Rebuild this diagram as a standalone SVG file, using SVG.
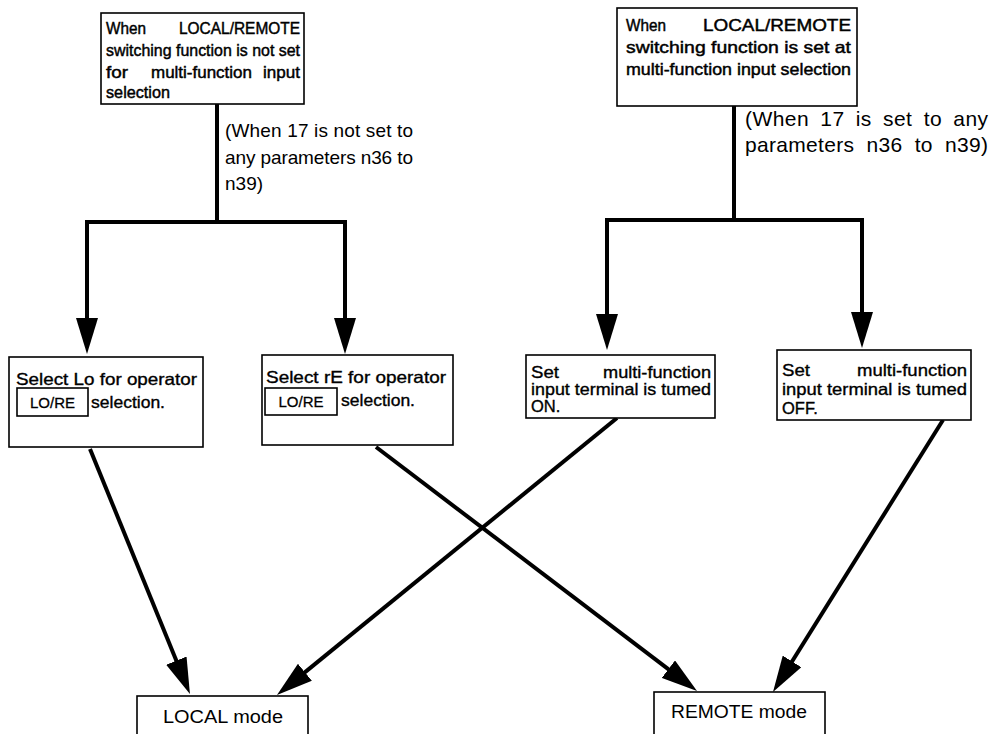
<svg xmlns="http://www.w3.org/2000/svg" width="992" height="734" viewBox="0 0 992 734">
<style>
.box{fill:#fff;stroke:#000;stroke-width:1.6}
.tb{font-family:"Liberation Sans",Arial,sans-serif;font-size:16.5px;fill:#000;stroke:#000;stroke-width:0.45}
.bt{font-family:"Liberation Sans",Arial,sans-serif;font-size:16.5px;fill:#000;stroke:#000;stroke-width:0.35}
.sm{font-family:"Liberation Sans",Arial,sans-serif;font-size:15px;fill:#000;stroke:#000;stroke-width:0.3}
.ann{font-family:"Liberation Sans",Arial,sans-serif;fill:#000}
.mt{font-family:"Liberation Sans",Arial,sans-serif;font-size:18px;fill:#000}
.ln{fill:none;stroke:#000;stroke-width:4}
.ar{fill:none;stroke:#000;stroke-width:4;marker-end:url(#ah)}
</style>
<defs>
<marker id="ah" markerUnits="userSpaceOnUse" viewBox="0 0 36 22" refX="16" refY="11" markerWidth="36" markerHeight="22" orient="auto">
<path d="M0,0 L36,11 L0,22 Z" fill="#000"/>
</marker>
</defs>
<g id="connectors">
<path class="ln" d="M217,104 V222"/>
<path class="ln" d="M85,222 H347"/>
<path class="ar" d="M87,222 V334"/>
<path class="ar" d="M345,222 V334"/>
<path class="ln" d="M734,106 V220"/>
<path class="ln" d="M605,220 H864"/>
<path class="ar" d="M607,220 V330"/>
<path class="ar" d="M862,220 V328"/>
<path class="ar" d="M90,449 L182.4,675.5"/>
<path class="ar" d="M376,447 L681.1,678.9"/>
<path class="ar" d="M617,418 L292.5,682.4"/>
<path class="ar" d="M943,420 L783.6,675"/>
</g>
<g id="node-top-left">
<rect class="box" x="101" y="13" width="203" height="91"/>
<text class="tb" x="106" y="34" textLength="40" lengthAdjust="spacingAndGlyphs">When</text>
<text class="tb" x="300" y="34" text-anchor="end" textLength="121" lengthAdjust="spacingAndGlyphs">LOCAL/REMOTE</text>
<text class="tb" x="106" y="56" textLength="194" lengthAdjust="spacingAndGlyphs">switching function is not set</text>
<text class="tb" x="106" y="78" textLength="22" lengthAdjust="spacingAndGlyphs">for</text>
<text class="tb" x="151" y="78" textLength="101" lengthAdjust="spacingAndGlyphs">multi-function</text>
<text class="tb" x="300" y="78" text-anchor="end" textLength="37" lengthAdjust="spacingAndGlyphs">input</text>
<text class="tb" x="106" y="98" textLength="64" lengthAdjust="spacingAndGlyphs">selection</text>
</g>
<g id="note-left" class="ann" font-size="19">
<text x="225" y="137" textLength="188" lengthAdjust="spacing">(When 17 is not set to</text>
<text x="225" y="164" textLength="188" lengthAdjust="spacing">any parameters n36 to</text>
<text x="225" y="190">n39)</text>
</g>
<g id="node-top-right">
<rect class="box" x="617" y="8" width="240" height="98"/>
<text class="tb" x="626" y="31" textLength="40" lengthAdjust="spacingAndGlyphs">When</text>
<text class="tb" x="851" y="31" text-anchor="end" textLength="148" lengthAdjust="spacingAndGlyphs">LOCAL/REMOTE</text>
<text class="tb" x="626" y="53" textLength="225" lengthAdjust="spacingAndGlyphs">switching function is set at</text>
<text class="tb" x="626" y="75" textLength="225" lengthAdjust="spacingAndGlyphs">multi-function input selection</text>
</g>
<g id="note-right" class="ann" font-size="21">
<text x="745" y="126" word-spacing="5" textLength="243" lengthAdjust="spacing">(When 17 is set to any</text>
<text x="745" y="152" word-spacing="6" textLength="243" lengthAdjust="spacing">parameters n36 to n39)</text>
</g>
<g id="node-select-lo">
<rect class="box" x="9" y="357" width="194" height="90"/>
<text class="bt" x="16" y="385" textLength="181" lengthAdjust="spacingAndGlyphs">Select Lo for operator</text>
<rect class="box" x="17" y="388" width="71" height="28"/>
<text class="sm" x="52.5" y="408" text-anchor="middle">LO/RE</text>
<text class="bt" x="91" y="408" textLength="74" lengthAdjust="spacingAndGlyphs">selection.</text>
</g>
<g id="node-select-re">
<rect class="box" x="262" y="355" width="191" height="90"/>
<text class="bt" x="266" y="383" textLength="180" lengthAdjust="spacingAndGlyphs">Select rE for operator</text>
<rect class="box" x="265" y="388" width="72" height="27"/>
<text class="sm" x="301" y="407" text-anchor="middle">LO/RE</text>
<text class="bt" x="341" y="406" textLength="74" lengthAdjust="spacingAndGlyphs">selection.</text>
</g>
<g id="node-on">
<rect class="box" x="526" y="355" width="189" height="63"/>
<text class="bt" x="531" y="378" textLength="28" lengthAdjust="spacingAndGlyphs">Set</text>
<text class="bt" x="711" y="378" text-anchor="end" textLength="108" lengthAdjust="spacingAndGlyphs">multi-function</text>
<text class="bt" x="531" y="395" textLength="180" lengthAdjust="spacingAndGlyphs">input terminal is tumed</text>
<text class="bt" x="531" y="412">ON.</text>
</g>
<g id="node-off">
<rect class="box" x="777" y="350" width="194" height="70"/>
<text class="bt" x="782" y="376" textLength="28" lengthAdjust="spacingAndGlyphs">Set</text>
<text class="bt" x="967" y="376" text-anchor="end" textLength="110" lengthAdjust="spacingAndGlyphs">multi-function</text>
<text class="bt" x="782" y="395" textLength="185" lengthAdjust="spacingAndGlyphs">input terminal is tumed</text>
<text class="bt" x="782" y="414">OFF.</text>
</g>
<g id="node-local">
<rect class="box" x="137" y="696" width="171" height="50"/>
<text class="mt" x="163" y="723" textLength="120" lengthAdjust="spacingAndGlyphs">LOCAL mode</text>
</g>
<g id="node-remote">
<rect class="box" x="654" y="692" width="171" height="54"/>
<text class="mt" x="671" y="718" textLength="136" lengthAdjust="spacingAndGlyphs">REMOTE mode</text>
</g>
</svg>
